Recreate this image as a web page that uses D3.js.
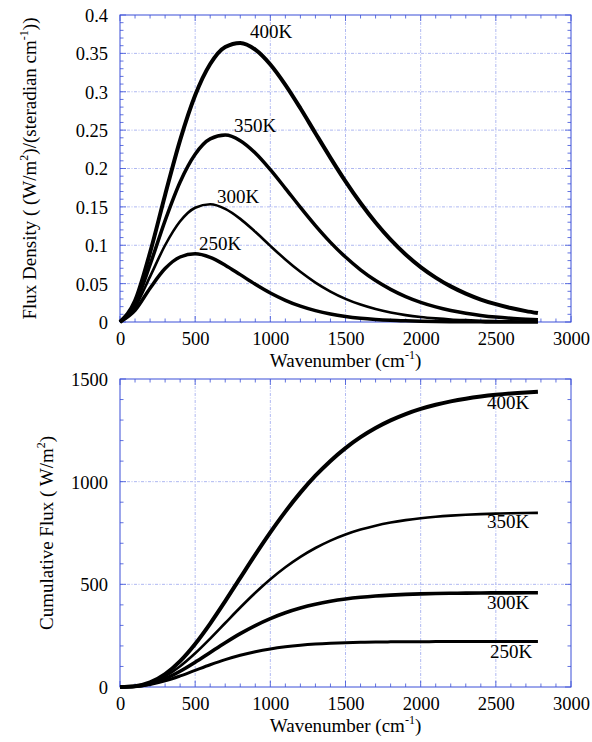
<!DOCTYPE html>
<html><head><meta charset="utf-8">
<script src="https://cdn.jsdelivr.net/npm/d3@7"></script>
<style>
html,body{margin:0;padding:0;background:#fff;}
svg text{font-family:"Liberation Serif","Times New Roman",Times,serif;fill:#000;}
</style></head>
<body>
<svg id="chart" width="592" height="742"></svg>
<script>
// ---- data ----
const wavenumber = [0,100,200,300,400,500,600,700,800,900,1000,1100,1200,1300,1400,1500,1600,1700,1800,1900,2000,2100,2200,2300,2400,2500,2600,2700,2780];
const temperatures = ["400K","350K","300K","250K"];

const fluxDensity400 = [0,0.0275,0.0905,0.1656,0.2370,0.2954,0.3361,0.3583,0.3636,0.3549,0.3356,0.3091,0.2785,0.2460,0.2139,0.1832,0.1550,0.1296,0.1073,0.0880,0.0716,0.0579,0.0464,0.0370,0.0293,0.0232,0.0182,0.0142,0.0116];
const fluxDensity350 = [0,0.0234,0.0747,0.1322,0.1825,0.2186,0.2386,0.2436,0.2363,0.2202,0.1985,0.1742,0.1494,0.1256,0.1038,0.0846,0.0680,0.0540,0.0425,0.0331,0.0256,0.0197,0.0150,0.0114,0.0086,0.0064,0.0048,0.0036,0.0028];
const fluxDensity300 = [0,0.0194,0.0592,0.1000,0.1312,0.1489,0.1534,0.1474,0.1344,0.1175,0.0992,0.0815,0.0654,0.0514,0.0397,0.0302,0.0227,0.0169,0.0124,0.0090,0.0065,0.0047,0.0033,0.0024,0.0017,0.0012,0.0008,0.0006,0.0004];
const fluxDensity250 = [0,0.0153,0.0441,0.0696,0.0847,0.0888,0.0841,0.0740,0.0617,0.0492,0.0378,0.0283,0.0206,0.0148,0.0104,0.0072,0.0049,0.0033,0.0022,0.0015,0.0010,0.0006,0.0004,0.0003,0.0002,0.0001,0.0001,0.0000,0.0000];

const cumFlux400 = [0,4.3,22.9,63.1,126.3,209.9,309.1,418.2,531.6,644.5,752.9,854.2,946.5,1028.9,1101.1,1163.5,1216.6,1261.3,1298.5,1329.2,1354.3,1374.6,1391.0,1404.1,1414.5,1422.8,1429.3,1434.3,1437.6];
const cumFlux350 = [0,3.7,19.1,51.6,101.0,164.0,235.9,311.6,387.0,458.7,524.5,583.0,633.8,677.0,713.1,742.6,766.6,785.8,800.9,812.8,822.1,829.2,834.6,838.7,841.9,844.2,846.0,847.3,848.1];
const cumFlux300 = [0,3.0,15.4,40.4,76.7,120.7,168.2,215.4,259.7,299.3,333.3,361.7,384.8,403.1,417.4,428.4,436.7,442.9,447.5,450.9,453.3,455.1,456.3,457.2,457.9,458.3,458.6,458.8,458.9];
const cumFlux250 = [0,2.4,11.7,29.6,53.8,81.1,108.2,133.1,154.4,171.8,185.5,195.8,203.5,209.1,213.0,215.8,217.7,219.0,219.8,220.4,220.8,221.0,221.2,221.3,221.4,221.4,221.4,221.4,221.5];

const xTicks = [0,500,1000,1500,2000,2500,3000];
const yTicksTop = [0,0.05,0.1,0.15,0.2,0.25,0.3,0.35,0.4];
const yTicksBottom = [0,500,1000,1500];

// ---- styling / layout ----
const FONT = '"Liberation Serif","Times New Roman",Times,serif';
const svg = d3.select("#chart");
const L = 120, R = 571;
const panels = [
  {top:15, bottom:322, ymax:0.4, yTicks:yTicksTop, yMinor:0.01, fmt:d=>String(d),
   series:[fluxDensity400,fluxDensity350,fluxDensity300,fluxDensity250],
   widths:[4,3.5,2.6,3.5],
   labels:[{x:250,y:38},{x:234,y:132},{x:217,y:203},{x:199,y:250}],
   ylabel:[["Flux Density ( (W/m",0],["2",1],[")/(steradian cm",0],["-1",1],["))",0]],
   ylabelX:36},
  {top:379, bottom:687, ymax:1500, yTicks:yTicksBottom, yMinor:100, fmt:d=>String(d),
   series:[cumFlux400,cumFlux350,cumFlux300,cumFlux250],
   widths:[4,2.6,3.6,3],
   labels:[{x:487,y:409},{x:487,y:528},{x:487,y:609},{x:490,y:658}],
   ylabel:[["Cumulative Flux ( W/m",0],["2",1],[")",0]],
   ylabelX:53}
];
const frameColor = "#3a4fd8";
const gridColor = "#9aa6ee";

panels.forEach(p => {
  const x = d3.scaleLinear().domain([0,3000]).range([L,R]);
  const y = d3.scaleLinear().domain([0,p.ymax]).range([p.bottom,p.top]);
  const g = svg.append("g");

  // grid
  g.selectAll(".gx").data(xTicks.slice(1,-1)).enter().append("line")
    .attr("x1",d=>x(d)).attr("x2",d=>x(d)).attr("y1",p.top).attr("y2",p.bottom)
    .attr("stroke",gridColor).attr("stroke-width",0.8).attr("stroke-dasharray","3,1.5,1,1.5");
  g.selectAll(".gy").data(p.yTicks.slice(1,-1)).enter().append("line")
    .attr("y1",d=>y(d)).attr("y2",d=>y(d)).attr("x1",L).attr("x2",R)
    .attr("stroke",gridColor).attr("stroke-width",0.8).attr("stroke-dasharray","3,1.5,1,1.5");

  // minor/major ticks (inside, all four sides)
  const xMinor = d3.range(0,3001,100);
  const nY = Math.round(p.ymax/p.yMinor);
  const yMinor = d3.range(0,nY+1).map(i=>i*p.yMinor);
  const tickG = g.append("g").attr("stroke",frameColor).attr("stroke-width",0.8);
  xMinor.forEach(v=>{
    const major = v%500===0; const len = major?6:3.5;
    tickG.append("line").attr("x1",x(v)).attr("x2",x(v)).attr("y1",p.bottom).attr("y2",p.bottom-len);
    tickG.append("line").attr("x1",x(v)).attr("x2",x(v)).attr("y1",p.top).attr("y2",p.top+len);
  });
  yMinor.forEach((v,i)=>{
    const major = i % (nY/(p.yTicks.length-1)) === 0; const len = major?6:3.5;
    tickG.append("line").attr("y1",y(v)).attr("y2",y(v)).attr("x1",L).attr("x2",L+len);
    tickG.append("line").attr("y1",y(v)).attr("y2",y(v)).attr("x1",R).attr("x2",R-len);
  });

  // frame
  g.append("rect").attr("x",L).attr("y",p.top).attr("width",R-L).attr("height",p.bottom-p.top)
    .attr("fill","none").attr("stroke",frameColor).attr("stroke-width",1);

  // axes labels via d3 axes (labels only)
  const xa = g.append("g").attr("transform",`translate(0,${p.bottom})`)
    .call(d3.axisBottom(x).tickValues(xTicks).tickSize(0).tickPadding(0).tickFormat(d3.format("d")));
  xa.attr("font-family",FONT);
  xa.select(".domain").remove();
  xa.selectAll("text").attr("dy",null).attr("y",23).attr("font-size",18.5).attr("fill","#000");
  const ya = g.append("g").attr("transform",`translate(${L},0)`)
    .call(d3.axisLeft(y).tickValues(p.yTicks).tickSize(0).tickPadding(0).tickFormat(p.fmt));
  ya.attr("font-family",FONT);
  ya.select(".domain").remove();
  ya.selectAll("text").attr("dy","0.35em").attr("x",-12).attr("font-size",18.5).attr("fill","#000");

  // x title
  const xt = g.append("text").attr("x",(L+R)/2).attr("y",p.bottom+45).attr("text-anchor","middle")
    .attr("font-size",19).attr("font-family",FONT);
  xt.append("tspan").text("Wavenumber (cm");
  xt.append("tspan").text("-1").attr("font-size",12).attr("dy",-8);
  xt.append("tspan").text(")").attr("dy",8);

  // y title
  const yt = g.append("text").attr("transform",`translate(${p.ylabelX},${(p.top+p.bottom)/2}) rotate(-90)`)
    .attr("text-anchor","middle").attr("font-size",19).attr("font-family",FONT);
  let shifted=false;
  p.ylabel.forEach(([t,sup])=>{
    const ts = yt.append("tspan").text(t);
    if(sup){ ts.attr("font-size",12).attr("dy",-8); shifted=true; }
    else if(shifted){ ts.attr("dy",8); shifted=false; }
  });

  // curves
  const line = d3.line().x((d,i)=>x(wavenumber[i])).y(d=>y(d)).curve(d3.curveMonotoneX);
  p.series.forEach((s,k)=>{
    g.append("path").attr("d",line(s)).attr("fill","none").attr("stroke","#000")
      .attr("stroke-width",p.widths[k]).attr("stroke-linejoin","round");
  });
  // curve labels
  p.labels.forEach((lb,k)=>{
    g.append("text").attr("x",lb.x).attr("y",lb.y).attr("font-size",19).attr("font-family",FONT).text(temperatures[k]);
  });
});
</script>
</body></html>
